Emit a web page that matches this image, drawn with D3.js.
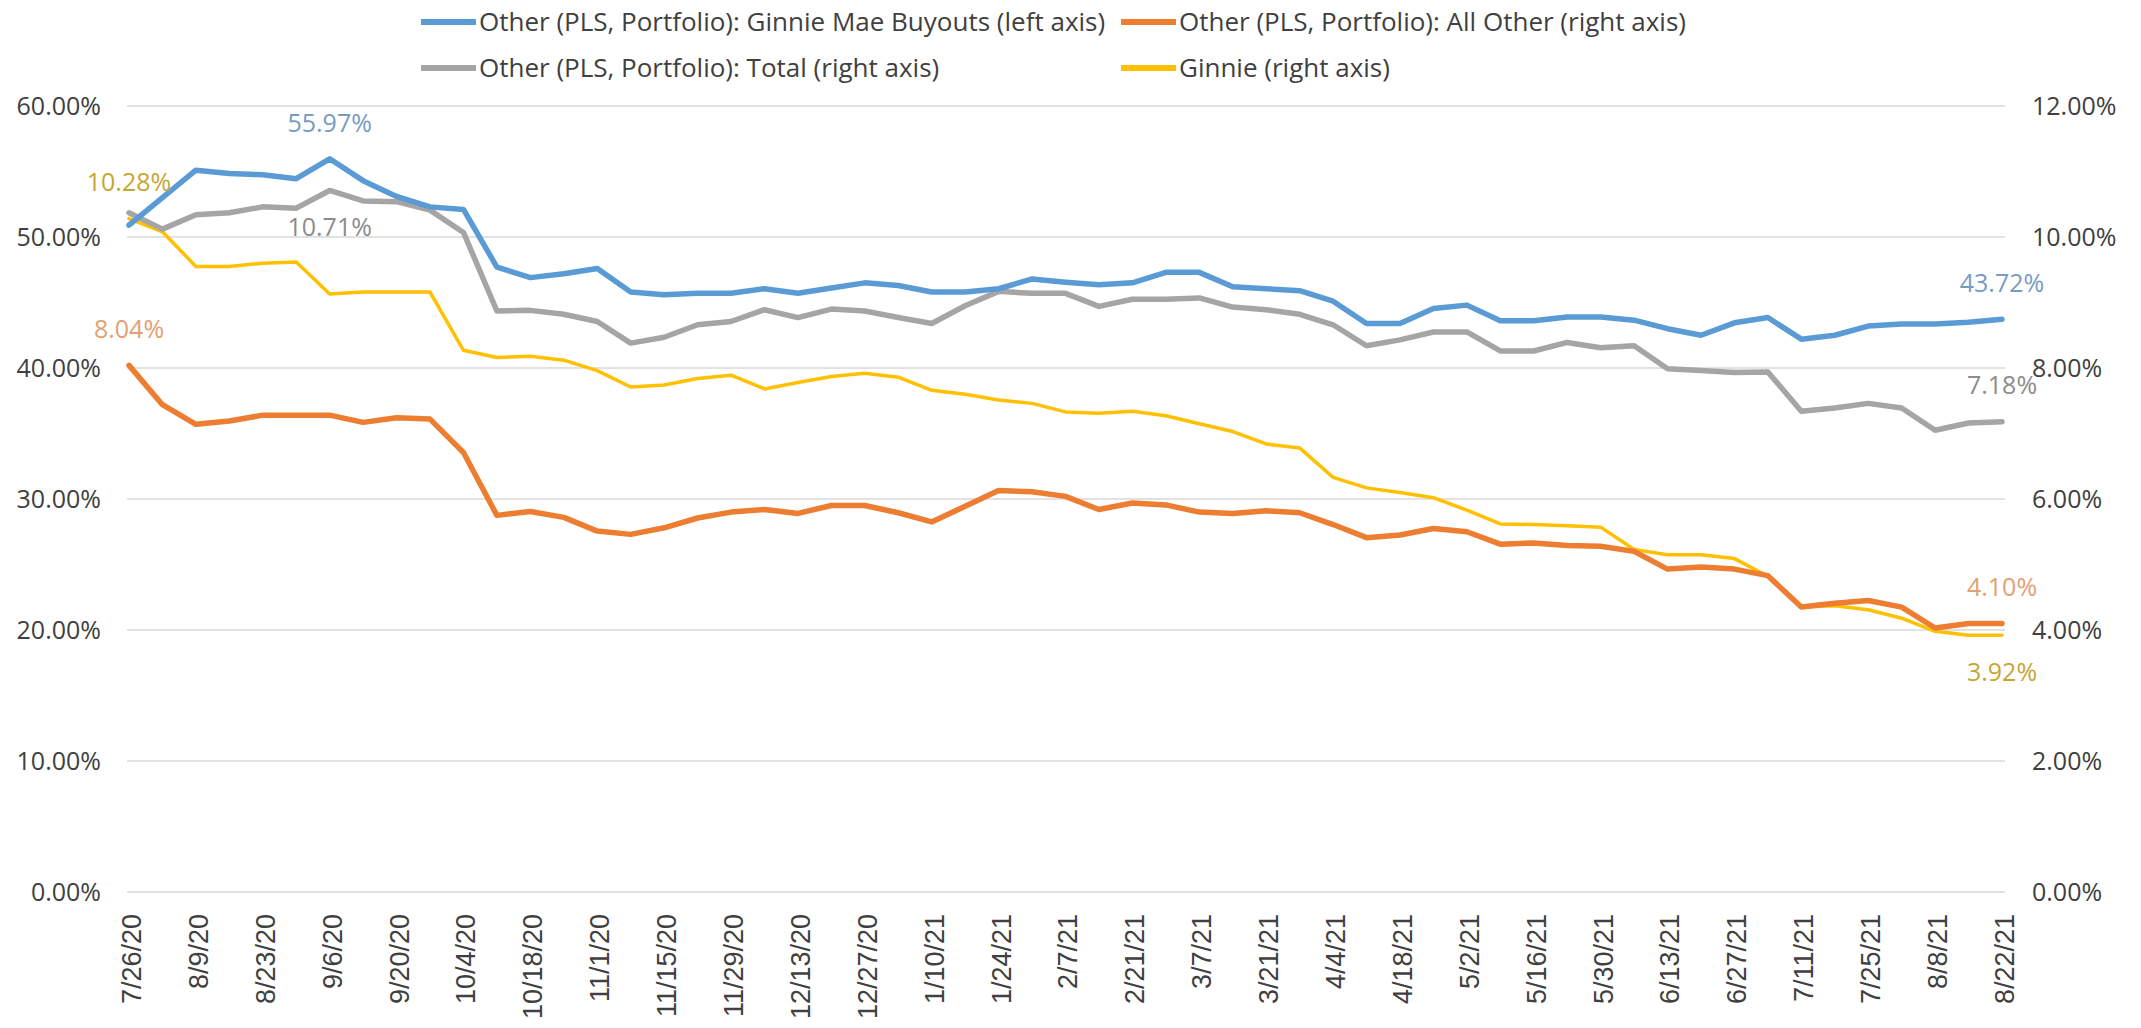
<!DOCTYPE html>
<html>
<head>
<meta charset="utf-8">
<script src="https://cdn.jsdelivr.net/npm/d3@7/dist/d3.min.js"></script>
<style>
    body { margin: 0; background: #ffffff; }
    svg { display: block; }
</style>
</head>
<body>
<svg></svg>
<script>
//==========================================================================
// Data (percent values).

var dates = [
    "7/26/20", "8/2/20", "8/9/20", "8/16/20", "8/23/20", "8/30/20", "9/6/20", "9/13/20",
    "9/20/20", "9/27/20", "10/4/20", "10/11/20", "10/18/20", "10/25/20", "11/1/20", "11/8/20",
    "11/15/20", "11/22/20", "11/29/20", "12/6/20", "12/13/20", "12/20/20", "12/27/20", "1/3/21",
    "1/10/21", "1/17/21", "1/24/21", "1/31/21", "2/7/21", "2/14/21", "2/21/21", "2/28/21",
    "3/7/21", "3/14/21", "3/21/21", "3/28/21", "4/4/21", "4/11/21", "4/18/21", "4/25/21",
    "5/2/21", "5/9/21", "5/16/21", "5/23/21", "5/30/21", "6/6/21", "6/13/21", "6/20/21",
    "6/27/21", "7/4/21", "7/11/21", "7/18/21", "7/25/21", "8/1/21", "8/8/21", "8/15/21",
    "8/22/21"
];

var tickDates = [
    "7/26/20", "8/9/20", "8/23/20", "9/6/20", "9/20/20", "10/4/20", "10/18/20", "11/1/20",
    "11/15/20", "11/29/20", "12/13/20", "12/27/20", "1/10/21", "1/24/21", "2/7/21", "2/21/21",
    "3/7/21", "3/21/21", "4/4/21", "4/18/21", "5/2/21", "5/16/21", "5/30/21", "6/13/21",
    "6/27/21", "7/11/21", "7/25/21", "8/8/21", "8/22/21"
];

// Other (PLS, Portfolio): Ginnie Mae Buyouts (left axis)
var buyouts = [
    50.9, 53.0, 55.1, 54.85, 54.75, 54.45, 55.97, 54.3, 53.1, 52.3, 52.1, 47.7, 46.9, 47.2, 47.6,
    45.8, 45.6, 45.7, 45.7, 46.05, 45.7, 46.1, 46.5, 46.3, 45.8, 45.8, 46.05, 46.8, 46.55, 46.35,
    46.5, 47.3, 47.3, 46.2, 46.05, 45.9, 45.1, 43.4, 43.4, 44.55, 44.8, 43.6, 43.6, 43.9, 43.9,
    43.65, 43.0, 42.5, 43.45, 43.85, 42.2, 42.5, 43.2, 43.35, 43.35, 43.5, 43.72
];

// Other (PLS, Portfolio): All Other (right axis)
var allOther = [
    8.04, 7.44, 7.14, 7.19, 7.28, 7.28, 7.28, 7.17, 7.24, 7.22, 6.71, 5.75, 5.81, 5.72, 5.51,
    5.46, 5.56, 5.71, 5.80, 5.84, 5.78, 5.90, 5.90, 5.79, 5.65, 5.89, 6.13, 6.11, 6.04, 5.84,
    5.94, 5.91, 5.80, 5.78, 5.82, 5.79, 5.61, 5.41, 5.45, 5.55, 5.50, 5.31, 5.33, 5.29, 5.28,
    5.20, 4.93, 4.96, 4.93, 4.83, 4.35, 4.41, 4.45, 4.35, 4.03, 4.10, 4.10
];

// Other (PLS, Portfolio): Total (right axis)
var total = [
    10.37, 10.12, 10.34, 10.37, 10.46, 10.44, 10.71, 10.55, 10.54, 10.41, 10.07, 8.87, 8.88, 8.82, 8.71,
    8.38, 8.47, 8.66, 8.71, 8.89, 8.77, 8.90, 8.87, 8.77, 8.68, 8.95, 9.17, 9.14, 9.14, 8.94,
    9.05, 9.05, 9.07, 8.93, 8.89, 8.82, 8.66, 8.34, 8.43, 8.55, 8.55, 8.26, 8.26, 8.39, 8.31,
    8.34, 7.99, 7.96, 7.93, 7.94, 7.34, 7.39, 7.46, 7.39, 7.05, 7.16, 7.18
];

// Ginnie (right axis)
var ginnie = [
    10.28, 10.08, 9.55, 9.55, 9.60, 9.62, 9.13, 9.16, 9.16, 9.16, 8.27, 8.16, 8.18, 8.12, 7.96,
    7.71, 7.74, 7.84, 7.89, 7.68, 7.78, 7.87, 7.92, 7.86, 7.66, 7.60, 7.51, 7.46, 7.33, 7.31,
    7.34, 7.27, 7.15, 7.03, 6.84, 6.78, 6.33, 6.17, 6.10, 6.02, 5.83, 5.62, 5.61, 5.59, 5.57,
    5.23, 5.15, 5.15, 5.09, 4.82, 4.35, 4.37, 4.31, 4.18, 3.98, 3.92, 3.92
];

var leftTicks = [0, 10, 20, 30, 40, 50, 60];
var rightTicks = [0, 2, 4, 6, 8, 10, 12];

var seriesNames = [
    "Other (PLS, Portfolio): Ginnie Mae Buyouts (left axis)",
    "Other (PLS, Portfolio): All Other (right axis)",
    "Other (PLS, Portfolio): Total (right axis)",
    "Ginnie (right axis)"
];

// Which points carry a data label, and on which side of the line.
var labelPoints = [
    { series: 0, index: 6, side: "above" },
    { series: 0, index: 56, side: "above" },
    { series: 1, index: 0, side: "above" },
    { series: 1, index: 56, side: "above" },
    { series: 2, index: 6, side: "below" },
    { series: 2, index: 56, side: "above" },
    { series: 3, index: 0, side: "above" },
    { series: 3, index: 56, side: "below" }
];


//==========================================================================
// Series table built from the arrays above.

var series = [
    { name: seriesNames[0], values: buyouts, axis: "left", color: "#5b9bd5", labelColor: "#779bc2", width: 5.5 },
    { name: seriesNames[1], values: allOther, axis: "right", color: "#ed7d31", labelColor: "#e3a072", width: 5.5 },
    { name: seriesNames[2], values: total, axis: "right", color: "#a5a5a5", labelColor: "#8c8c8c", width: 5.5 },
    { name: seriesNames[3], values: ginnie, axis: "right", color: "#ffc000", labelColor: "#c8a533", width: 3.5 }
];

// Draw order matches the reference (buyouts on top).
var drawOrder = [3, 2, 1, 0];


//==========================================================================
// Create the graphic elements.

var width = 2141;
var height = 1028;

var plot = {
    left: 129,
    right: 2002,
    top: 106,
    bottom: 892
};

var svg = d3.select("svg")
    .attr("width", width)
    .attr("height", height)
;

var xScale = d3.scalePoint()
    .domain(dates)
    .range([plot.left, plot.right])
;

var yLeft = d3.scaleLinear()
    .domain([0, 60])
    .range([plot.bottom, plot.top])
;

var yRight = d3.scaleLinear()
    .domain([0, 12])
    .range([plot.bottom, plot.top])
;

function yFor(s) {
    return s.axis === "left" ? yLeft : yRight;
}

// Gridlines
svg.append("g")
    .attr("class", "grid")
    .selectAll("line")
    .data(leftTicks)
    .enter()
    .append("line")
    .attr("x1", plot.left - 2)
    .attr("x2", plot.right + 3)
    .attr("y1", function(d) { return yLeft(d); })
    .attr("y2", function(d) { return yLeft(d); })
    .attr("stroke", "#d9d9d9")
    .attr("stroke-width", 1.5)
;

// Left axis
var leftAxis = svg.append("g")
    .attr("transform", "translate(" + (plot.left - 2) + ",0)")
    .call(d3.axisLeft(yLeft)
        .tickValues(leftTicks)
        .tickSize(0)
        .tickPadding(26)
        .tickFormat(function(d) { return d.toFixed(2) + "%"; }))
;

// Right axis
var rightAxis = svg.append("g")
    .attr("transform", "translate(" + (plot.right + 3) + ",0)")
    .call(d3.axisRight(yRight)
        .tickValues(rightTicks)
        .tickSize(0)
        .tickPadding(27)
        .tickFormat(function(d) { return d.toFixed(2) + "%"; }))
;

[leftAxis, rightAxis].forEach(function(axis) {
    axis.select(".domain").remove();
    axis.selectAll("text")
        .attr("font-family", "'Open Sans', sans-serif")
        .attr("font-size", 25)
        .attr("fill", "#404040")
    ;
});

// Category axis with rotated date labels
var xAxis = svg.append("g")
    .attr("transform", "translate(0," + plot.bottom + ")")
    .call(d3.axisBottom(xScale)
        .tickValues(tickDates)
        .tickSize(0))
;
xAxis.select(".domain").remove();
xAxis.selectAll("text")
    .attr("transform", "rotate(-90)")
    .attr("text-anchor", "end")
    .attr("x", -22)
    .attr("y", 2)
    .attr("dy", "0.35em")
    .attr("font-family", "'Liberation Sans', Arial, sans-serif")
    .attr("font-size", 27)
    .attr("fill", "#404040")
;

// Lines
var lineGroup = svg.append("g").attr("class", "lines");

drawOrder.forEach(function(k) {
    var s = series[k];
    var yScale = yFor(s);
    var line = d3.line()
        .x(function(d, i) { return xScale(dates[i]); })
        .y(function(d) { return yScale(d); })
    ;
    lineGroup.append("path")
        .datum(s.values)
        .attr("d", line)
        .attr("fill", "none")
        .attr("stroke", s.color)
        .attr("stroke-width", s.width)
        .attr("stroke-linejoin", "round")
        .attr("stroke-linecap", "round")
    ;
});

// Data labels
svg.append("g")
    .attr("class", "data-labels")
    .selectAll("text")
    .data(labelPoints)
    .enter()
    .append("text")
    .attr("x", function(d) { return xScale(dates[d.index]); })
    .attr("y", function(d) {
        var s = series[d.series];
        var y = yFor(s)(s.values[d.index]);
        return d.side === "above" ? y - 36 : y + 37;
    })
    .attr("dy", "0.35em")
    .attr("text-anchor", "middle")
    .attr("font-family", "'Open Sans', sans-serif")
    .attr("font-size", 25)
    .attr("fill", function(d) { return series[d.series].labelColor; })
    .text(function(d) {
        return series[d.series].values[d.index].toFixed(2) + "%";
    })
;

// Legend: two columns, two rows
var legend = svg.append("g").attr("class", "legend");
var legendRows = [22, 68];
var legendCols = [421, 1121];
var markerLength = 55;
var markerGap = 3;

var legendItems = legend.selectAll("g")
    .data(series)
    .enter()
    .append("g")
    .attr("transform", function(d, i) {
        return "translate(" + legendCols[i % 2] + "," + legendRows[Math.floor(i / 2)] + ")";
    })
;

legendItems.append("line")
    .attr("x1", 0)
    .attr("x2", markerLength)
    .attr("stroke", function(d) { return d.color; })
    .attr("stroke-width", 6)
;

legendItems.append("text")
    .attr("x", markerLength + markerGap)
    .attr("dy", "0.35em")
    .attr("font-family", "'Open Sans', sans-serif")
    .attr("font-size", 26)
    .attr("fill", "#404040")
    .text(function(d) { return d.name; })
;
</script>
</body>
</html>
